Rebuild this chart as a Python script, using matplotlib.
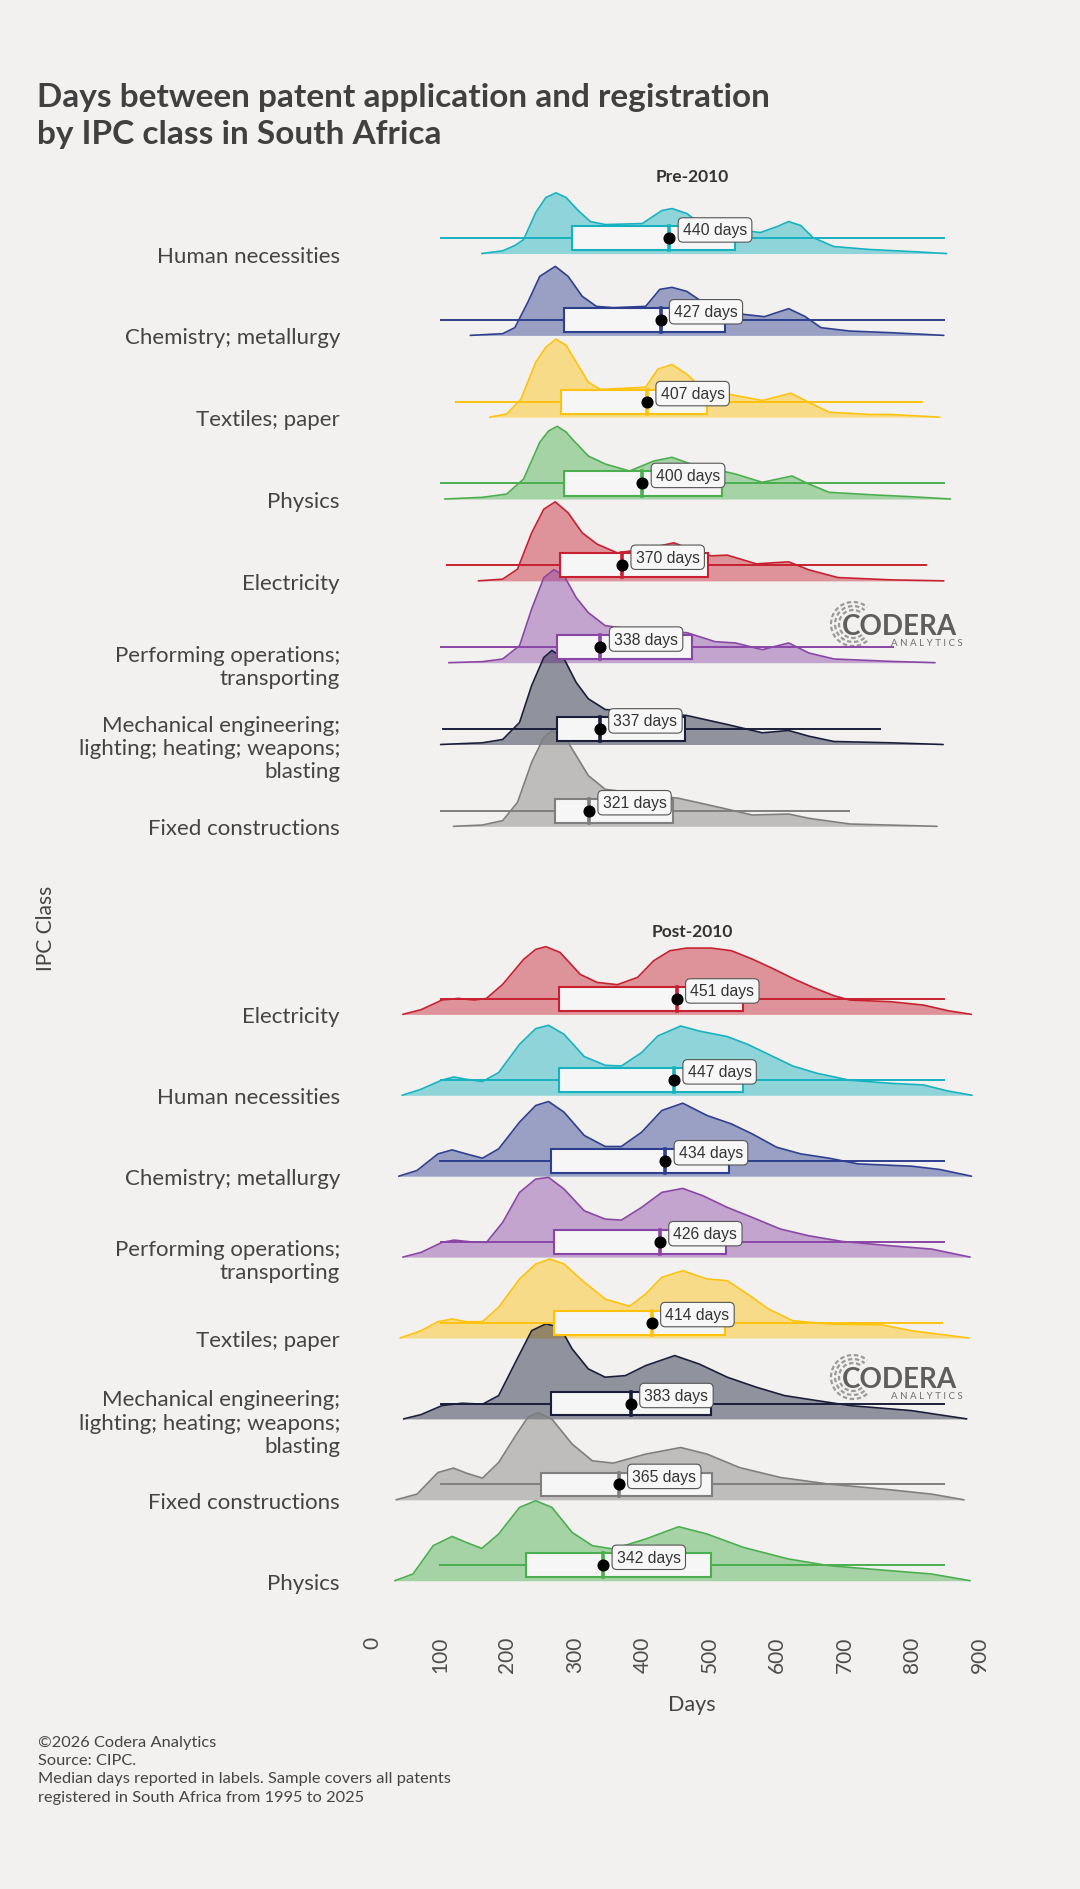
import numpy as np
import matplotlib.pyplot as plt
from matplotlib.patches import Rectangle, Arc

# ---------------- data (days; ridge heights are relative density) ----------------
PRE_CLASSES = ["Human necessities", "Chemistry; metallurgy", "Textiles; paper", "Physics",
               "Electricity", "Performing operations;\ntransporting",
               "Mechanical engineering;\nlighting; heating; weapons;\nblasting",
               "Fixed constructions"]
PRE_LOW = [101, 101, 124, 102, 110, 101, 104, 102]
PRE_Q1 = [296, 284, 280, 284, 278, 273, 273, 271]
PRE_MEDIAN = [440, 427, 407, 400, 370, 338, 337, 321]
PRE_Q3 = [538, 522, 496, 518, 497, 473, 464, 446]
PRE_HIGH = [847, 847, 815, 847, 821, 771, 753, 706]

POST_CLASSES = ["Electricity", "Human necessities", "Chemistry; metallurgy",
                "Performing operations;\ntransporting", "Textiles; paper",
                "Mechanical engineering;\nlighting; heating; weapons;\nblasting",
                "Fixed constructions", "Physics"]
POST_LOW = [101, 101, 100, 101, 101, 101, 101, 100]
POST_Q1 = [276, 276, 264, 269, 269, 264, 250, 227]
POST_MEDIAN = [451, 447, 434, 426, 414, 383, 365, 342]
POST_Q3 = [549, 549, 528, 524, 522, 502, 503, 502]
POST_HIGH = [847, 847, 847, 847, 844, 847, 847, 847]

# pre-2010 density ridges
PRE_HUMAN_D = [162, 193, 211, 224, 242, 257, 272, 287, 305, 323, 345, 400, 429, 444, 466, 484, 526, 575, 600, 617, 635, 653, 684, 738, 799, 851]
PRE_HUMAN_H = [0, 2.7, 8, 14, 41, 56, 60.7, 56, 43, 32, 29, 30, 43, 45, 40, 31, 25, 21, 27, 32, 28, 16, 7, 4, 2, 0]
PRE_CHEM_D = [145, 193, 211, 230, 248, 271, 290, 311, 332, 357, 405, 426, 444, 466, 490, 550, 581, 617, 641, 665, 708, 768, 847]
PRE_CHEM_H = [0, 1.7, 7.7, 32.7, 59, 69, 59, 39, 29, 27.7, 29, 46, 48, 44, 33, 21, 18.7, 26.7, 19, 7.7, 4.3, 2.7, 0]
PRE_TEXT_D = [174, 199, 220, 242, 257, 272, 287, 296, 320, 338, 405, 423, 444, 466, 490, 538, 578, 620, 647, 677, 738, 768, 841]
PRE_TEXT_H = [0, 3.3, 18, 55, 70, 78, 72, 61.7, 35, 27.7, 30, 48, 52.7, 43, 28, 21.7, 16.7, 24, 15, 5, 2.7, 2.7, 0]
PRE_PHYS_D = [107, 163, 199, 224, 248, 261, 274, 287, 296, 320, 345, 381, 417, 444, 472, 538, 578, 622, 647, 677, 738, 799, 857]
PRE_PHYS_H = [0, 1.7, 5, 20, 56.7, 68, 72.7, 67, 60, 43, 35, 28, 38, 41.7, 35, 25, 16.7, 23, 15, 6.7, 4.3, 2.3, 0]
PRE_ELEC_D = [157, 193, 215, 236, 254, 271, 290, 311, 333, 363, 405, 447, 470, 502, 526, 569, 617, 647, 690, 768, 847]
PRE_ELEC_H = [0, 1.7, 11.7, 48, 71.7, 79, 68, 48, 36.7, 28, 32, 38, 32, 25, 25.7, 17, 19, 11, 3.3, 1, 0]
PRE_PERF_D = [113, 163, 193, 218, 236, 254, 269, 284, 302, 320, 345, 400, 466, 508, 538, 578, 617, 647, 684, 768, 834]
PRE_PERF_H = [0, 1, 3.7, 17, 53.7, 85, 93, 87, 65, 50, 37, 32, 30, 21, 19.7, 13, 19.7, 9.7, 3.7, 1.3, 0]
PRE_MECH_D = [101, 163, 193, 218, 236, 254, 266, 284, 302, 320, 345, 466, 526, 578, 617, 647, 684, 768, 846]
PRE_MECH_H = [0, 1.7, 5, 22, 59, 87, 94, 85.7, 62, 45.7, 35, 29, 20, 11.7, 14, 8.3, 3, 1.7, 0]
PRE_FIX_D = [120, 163, 193, 215, 236, 254, 266, 284, 302, 320, 345, 454, 514, 563, 617, 647, 708, 837]
PRE_FIX_H = [0, 1.3, 5.7, 24, 64, 89, 95.7, 90.7, 70.7, 50.7, 37, 28, 19, 11.3, 12.3, 8, 2.3, 0]

# post-2010 density ridges
POST_ELEC_D = [45, 72, 103, 127, 151, 169, 193, 224, 242, 257, 278, 308, 333, 363, 393, 417, 441, 466, 502, 532, 563, 593, 623, 653, 684, 708, 768, 817, 853, 888]
POST_ELEC_H = [0, 4.7, 14.3, 16, 14.3, 16, 30, 55, 65, 67.7, 62, 40, 32, 29.7, 37, 53.7, 63.7, 66.3, 66.3, 63.7, 55.3, 46, 36, 27, 18.7, 14.3, 12.7, 9.3, 3.7, 0]
POST_HUMAN_D = [44, 72, 103, 121, 139, 163, 187, 218, 242, 261, 284, 314, 345, 369, 399, 423, 457, 484, 526, 556, 587, 623, 659, 708, 768, 817, 853, 889]
POST_HUMAN_H = [0, 6, 15.3, 18.3, 16, 13.7, 22.7, 51, 66.7, 70, 61, 38.7, 30, 29.3, 42.7, 59.3, 69.3, 64.3, 58.7, 51, 41, 29.3, 22, 15, 12, 10.3, 4.3, 0]
POST_CHEM_D = [39, 66, 97, 118, 139, 163, 187, 218, 242, 261, 284, 314, 345, 369, 399, 429, 460, 496, 532, 563, 599, 635, 677, 720, 799, 841, 888]
POST_CHEM_H = [0, 5.7, 22.3, 26.3, 22.3, 18, 27.3, 54, 70.7, 74.7, 64, 40.7, 29.7, 29.7, 44, 65.7, 73, 60.7, 52.3, 42.3, 29, 22.3, 18, 12.3, 10, 6.7, 0]
POST_PERF_D = [45, 72, 103, 121, 145, 169, 193, 218, 242, 261, 284, 314, 345, 369, 399, 429, 460, 490, 526, 563, 605, 647, 696, 768, 829, 886]
POST_PERF_H = [0, 4.7, 14.7, 17, 15.3, 14.7, 34.7, 64.7, 78, 79.7, 68, 46.3, 38, 37, 49.7, 64.7, 68.7, 61.3, 49.7, 39.7, 28, 21.3, 15.7, 11.3, 8, 0]
POST_TEXT_D = [41, 72, 97, 118, 139, 163, 187, 218, 242, 263, 284, 314, 345, 381, 405, 429, 460, 496, 526, 556, 587, 623, 677, 756, 799, 884]
POST_TEXT_H = [0, 7.3, 16.3, 19, 16.3, 16.3, 30.7, 59, 74, 79, 74, 55.7, 39, 31.7, 44, 60.7, 67.3, 59, 57.3, 44, 29, 17.3, 14, 13, 7.3, 0]
POST_MECH_D = [46, 72, 103, 133, 163, 187, 212, 236, 257, 278, 296, 320, 345, 375, 405, 448, 484, 526, 569, 611, 659, 708, 799, 881]
POST_MECH_H = [0, 4.3, 13.3, 15.7, 14.7, 23.3, 56.7, 88.3, 95, 91.7, 70, 50, 41.7, 43.3, 53.3, 63.3, 55, 41.7, 31.7, 23.3, 18.3, 13.3, 8.3, 0]
POST_FIX_D = [35, 66, 97, 120, 139, 163, 187, 212, 230, 245, 266, 296, 326, 357, 405, 457, 496, 544, 605, 677, 768, 829, 877]
POST_FIX_H = [0, 5.7, 27.3, 31.7, 26.7, 21.7, 37.3, 64, 82.3, 87.3, 80.7, 55.7, 39, 36.7, 45.7, 52.3, 45.7, 32.3, 22.3, 15.7, 10, 5.7, 0]
POST_PHYS_D = [33, 60, 90, 118, 139, 162, 187, 218, 242, 266, 296, 326, 357, 405, 454, 496, 550, 617, 677, 768, 829, 886]
POST_PHYS_H = [0, 6.7, 35, 44.3, 38.3, 32.3, 46.7, 73.3, 80, 73.3, 48.3, 35, 31.7, 41.7, 54, 46.7, 33.3, 21.7, 15, 10, 6.7, 0]

X_TICKS = [0, 100, 200, 300, 400, 500, 600, 700, 800, 900]
FOOTER = ["\u00a92026 Codera Analytics", "Source: CIPC.",
          "Median days reported in labels. Sample covers all patents",
          "registered in South Africa from 1995 to 2025"]

# ---------------- style ----------------
BG = "#F2F1EF"
TXT = "#444444"
CLASS_COLORS = {
    "Human necessities": "#17B2C0",
    "Chemistry; metallurgy": "#2E3F8F",
    "Textiles; paper": "#FFC20E",
    "Physics": "#4BAF4F",
    "Electricity": "#C72030",
    "Performing operations;\ntransporting": "#8A46A6",
    "Mechanical engineering;\nlighting; heating; weapons;\nblasting": "#1A1E3A",
    "Fixed constructions": "#7F7F7F",
}
W, H = 1080, 1890
X0_PX, PX_PER_DAY = 372.5, 0.6745
XMIN, XMAX = -20, 963
WHISK_OFF, BOX_HALF = 0.19, 0.147

plt.rcParams['font.family'] = ['Lato', 'DejaVu Sans']

fig = plt.figure(figsize=(W / 100, H / 100), dpi=100)
fig.patch.set_facecolor(BG)


def add_panel(top_px, bottom_px, ylim):
    left = (X0_PX + XMIN * PX_PER_DAY) / W
    width = (XMAX - XMIN) * PX_PER_DAY / W
    ax = fig.add_axes([left, 1 - bottom_px / H, width, (bottom_px - top_px) / H])
    ax.set_facecolor("none")
    ax.set_xlim(XMIN, XMAX)
    ax.set_ylim(*ylim)
    for s in ax.spines.values():
        s.set_visible(False)
    return ax


def draw_panel(ax, classes, curves, low, q1, med, q3, high, row_px):
    n = len(classes)
    # ridges: lower rows drawn over upper ones
    for i, (d, h) in enumerate(curves):
        base = n - 1 - i
        col = CLASS_COLORS[classes[i]]
        top = base + np.asarray(h) / row_px
        ax.fill_between(d, base, top, color=col, alpha=0.45, lw=0, zorder=1 + i * 0.02)
        ax.plot(d, top, color=col, lw=1.2, zorder=1.01 + i * 0.02,
                solid_joinstyle='round', solid_capstyle='round')
    # boxplots + median labels
    for i in range(n):
        base = n - 1 - i
        col = CLASS_COLORS[classes[i]]
        yc = base + WHISK_OFF
        ax.plot([low[i], q1[i]], [yc, yc], color=col, lw=1.4, zorder=3)
        ax.plot([q3[i], high[i]], [yc, yc], color=col, lw=1.4, zorder=3)
        ax.add_patch(Rectangle((q1[i], yc - BOX_HALF), q3[i] - q1[i], 2 * BOX_HALF,
                               fc="#F6F6F6", ec=col, lw=1.5, zorder=3))
        ax.plot([med[i], med[i]], [yc - BOX_HALF, yc + BOX_HALF], color=col, lw=2.6, zorder=3.1)
        ax.plot(med[i], yc, 'o', color='black', ms=7.7, zorder=4)
        ax.annotate(f"{med[i]} days", (med[i], yc), xytext=(9.8, 5.8), textcoords='offset points',
                    ha='left', va='center', fontsize=11.3, family='Liberation Sans', color='#333333',
                    bbox=dict(boxstyle='round,pad=0.3,rounding_size=0.3', fc='#F7F7F7',
                              ec='#555555', lw=0.8), zorder=5)
    ax.set_yticks([n - 1 - i for i in range(n)])
    ax.set_yticklabels(classes, fontsize=16, color=TXT, linespacing=1.2)
    ax.tick_params(axis='y', length=0, pad=13.7)


pre = add_panel(185, 845, (-0.216, 7.85))
post = add_panel(945, 1600, (-0.226, 7.87))

pre_curves = [(PRE_HUMAN_D, PRE_HUMAN_H), (PRE_CHEM_D, PRE_CHEM_H), (PRE_TEXT_D, PRE_TEXT_H),
              (PRE_PHYS_D, PRE_PHYS_H), (PRE_ELEC_D, PRE_ELEC_H), (PRE_PERF_D, PRE_PERF_H),
              (PRE_MECH_D, PRE_MECH_H), (PRE_FIX_D, PRE_FIX_H)]
post_curves = [(POST_ELEC_D, POST_ELEC_H), (POST_HUMAN_D, POST_HUMAN_H), (POST_CHEM_D, POST_CHEM_H),
               (POST_PERF_D, POST_PERF_H), (POST_TEXT_D, POST_TEXT_H), (POST_MECH_D, POST_MECH_H),
               (POST_FIX_D, POST_FIX_H), (POST_PHYS_D, POST_PHYS_H)]

draw_panel(pre, PRE_CLASSES, pre_curves, PRE_LOW, PRE_Q1, PRE_MEDIAN, PRE_Q3, PRE_HIGH, 81.8)
draw_panel(post, POST_CLASSES, post_curves, POST_LOW, POST_Q1, POST_MEDIAN, POST_Q3, POST_HIGH, 80.9)

pre.set_xticks([])
post.set_xticks(X_TICKS)
post.set_xticklabels([str(t) for t in X_TICKS], rotation=90, fontsize=15, color="#4D4D4D")
post.tick_params(axis='x', length=0, pad=26.6)

# ---------------- decoration layer in pixel coords ----------------
deco = fig.add_axes([0, 0, 1, 1], zorder=-1)
deco.set_xlim(0, W)
deco.set_ylim(H, 0)
deco.axis('off')

deco.text(37, 107, "Days between patent application and registration", fontsize=24,
          weight='bold', color="#404040", va='baseline')
deco.text(37, 144, "by IPC class in South Africa", fontsize=24,
          weight='bold', color="#404040", va='baseline')
deco.text(692, 177, "Pre-2010", fontsize=12.5, weight='bold', color="#333333", ha='center', va='center')
deco.text(692, 932, "Post-2010", fontsize=12.5, weight='bold', color="#333333", ha='center', va='center')
deco.text(46, 928, "IPC Class", fontsize=15, color=TXT, rotation=90, ha='center', va='center')
deco.text(692, 1705, "Days", fontsize=15.5, color=TXT, ha='center', va='center')

for k, line in enumerate(FOOTER):
    deco.text(38, 1747 + k * 18.2, line, fontsize=11.8, color=TXT, va='baseline')

# Codera logos
for cy in (635, 1388):
    for r in (14, 18, 22):
        deco.add_patch(Arc((853, cy - 10), 2 * r, 2 * r, theta1=50, theta2=310,
                           color="#9A9A9A", lw=1.6, ls=(0, (2, 1.2))))
    deco.text(842, cy, "CODERA", fontsize=20, weight='bold', color="#5E5E5E", va='baseline')
    deco.text(963, cy + 11, "A N A L Y T I C S", fontsize=7, color="#6E6E6E", ha='right', va='baseline')

fig.savefig("out.png", dpi=100, facecolor=BG)
